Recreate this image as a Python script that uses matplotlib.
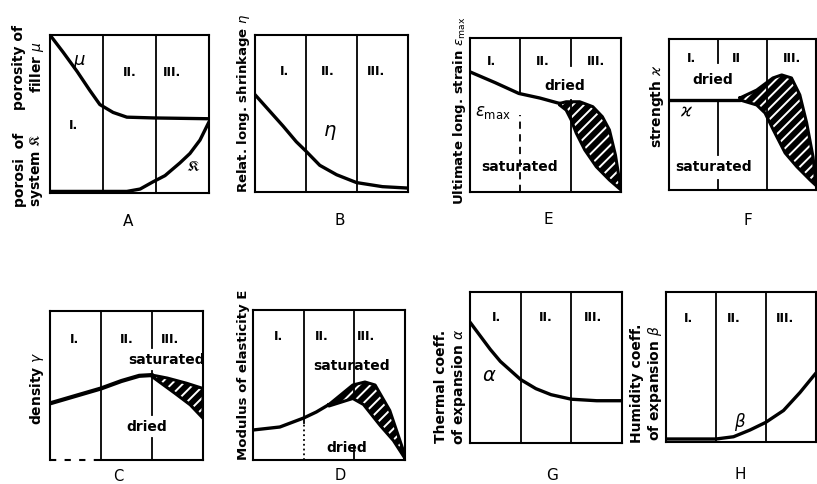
import numpy as np
import matplotlib.pyplot as plt

plt.rcParams['font.family'] = ['DejaVu Sans']
plt.rcParams['mathtext.fontset'] = 'dejavusans'
plt.rcParams['hatch.linewidth'] = 1.4

W, H = 817, 484

# ---- data (x: 0..3 over regions I-III, y: 0..1 relative) ----
# A: porosity of filler (mu) and of system (kappa)
a_mu_x = [0, 0.25, 0.51, 0.75, 0.94, 1.19, 1.45, 1.96, 3.0]
a_mu_y = [1.0, 0.89, 0.77, 0.65, 0.56, 0.51, 0.48, 0.475, 0.47]
a_k_x = [0, 1.0, 1.45, 1.7, 1.94, 2.17, 2.45, 2.64, 2.83, 3.0]
a_k_y = [0.01, 0.01, 0.01, 0.025, 0.07, 0.11, 0.19, 0.25, 0.335, 0.45]

# B: relative longitudinal shrinkage eta
b_x = [0, 0.22, 0.55, 0.81, 1.0, 1.27, 1.6, 1.99, 2.5, 3.0]
b_y = [0.62, 0.54, 0.42, 0.32, 0.26, 0.17, 0.11, 0.06, 0.034, 0.025]

# E: ultimate longitudinal strain
e_x = [0, 0.5, 0.97, 1.39, 1.78]
e_y = [0.78, 0.71, 0.64, 0.61, 0.575]
e_up_x = [1.78, 1.91, 2.18, 2.44, 2.63, 2.77, 2.89, 3.0]
e_up_y = [0.575, 0.586, 0.586, 0.554, 0.489, 0.403, 0.24, 0.013]
e_lo_x = [1.78, 1.91, 2.01, 2.11, 2.28, 2.51, 2.77, 3.0]
e_lo_y = [0.565, 0.532, 0.468, 0.383, 0.273, 0.164, 0.078, 0.013]

# F: strength
f_x = [0, 0.7, 1.45]
f_y = [0.596, 0.596, 0.596]
f_up_x = [1.45, 1.79, 2.12, 2.3, 2.5, 2.67, 2.81, 2.94, 3.0]
f_up_y = [0.61, 0.662, 0.742, 0.762, 0.742, 0.63, 0.444, 0.219, 0.03]
f_lo_x = [1.45, 1.79, 1.96, 2.13, 2.37, 2.61, 2.88, 3.0]
f_lo_y = [0.596, 0.563, 0.51, 0.397, 0.245, 0.154, 0.066, 0.03]

# C: density
c_x = [0, 0.5, 1.0, 1.4, 1.75, 2.0]
c_y = [0.38, 0.43, 0.48, 0.53, 0.565, 0.57]
c_up_x = [2.0, 2.3, 2.68, 3.0]
c_up_y = [0.57, 0.55, 0.515, 0.48]
c_lo_x = [2.0, 2.18, 2.44, 2.75, 3.0]
c_lo_y = [0.56, 0.515, 0.45, 0.37, 0.28]

# D: modulus of elasticity
d_x = [0, 0.53, 1.0, 1.25, 1.5]
d_y = [0.2, 0.22, 0.28, 0.32, 0.37]
d_up_x = [1.5, 1.97, 2.21, 2.41, 2.7, 3.0]
d_up_y = [0.37, 0.5, 0.52, 0.5, 0.33, 0.03]
d_lo_x = [1.5, 1.97, 2.18, 2.51, 2.77, 3.0]
d_lo_y = [0.36, 0.41, 0.37, 0.23, 0.13, 0.01]

# G: thermal coefficient of expansion alpha
g_x = [0, 0.2, 0.4, 0.6, 0.8, 1.0, 1.3, 1.6, 2.0, 2.5, 3.0]
g_y = [0.8, 0.71, 0.62, 0.54, 0.48, 0.42, 0.36, 0.32, 0.29, 0.28, 0.28]

# H: humidity coefficient of expansion beta
h_x = [0, 1.0, 1.35, 1.68, 1.99, 2.35, 2.68, 2.95, 3.0]
h_y = [0.02, 0.02, 0.035, 0.08, 0.13, 0.21, 0.33, 0.44, 0.46]

fig = plt.figure(figsize=(W / 100, H / 100), dpi=100)
fig.patch.set_facecolor('white')


def panel(x0, x1, y0, y1):
    ax = fig.add_axes([x0 / W, 1 - y1 / H, (x1 - x0) / W, (y1 - y0) / H])
    ax.set_xlim(0, 3)
    ax.set_ylim(0, 1)
    ax.set_xticks([])
    ax.set_yticks([])
    for s in ax.spines.values():
        s.set_linewidth(1.5)
    return ax


def vdiv(ax, x, segs=((0, 1),), ls='-'):
    for lo, hi in segs:
        ax.plot([x, x], [lo, hi], color='black', lw=1.3, ls=ls)


def band(ax, ux, uy, lx, ly):
    # black band with white diagonal slits, as in the print
    px = np.concatenate([ux, lx[::-1]])
    py = np.concatenate([uy, ly[::-1]])
    ax.fill(px, py, facecolor='black', edgecolor='none')
    ax.fill(px, py, facecolor='none', edgecolor='white', hatch='///', lw=0)
    ax.plot(np.append(px, px[0]), np.append(py, py[0]), color='black', lw=2.2,
            solid_joinstyle='round')


def curve(ax, x, y, lw=2.4):
    ax.plot(x, y, color='black', lw=lw, solid_capstyle='round', solid_joinstyle='round')


def romans(ax, pos, labels=('I.', 'II.', 'III.'), y=0.8):
    for xx, t, yy in zip(pos, labels, np.broadcast_to(y, len(pos))):
        ax.text(xx, yy, t, ha='center', va='center', fontsize=9, fontweight='bold')


def ylab(x, ybot, text, size=10):
    fig.text(x / W, 1 - ybot / H, text, rotation=90, ha='center', va='bottom',
             fontsize=size, fontweight='bold', linespacing=1.1)


def letter(x, ytop, t, size=11):
    fig.text(x / W, 1 - ytop / H, t, ha='center', va='top', fontsize=size)


txt = dict(ha='center', va='center', fontsize=10, fontweight='bold')

# A
ax = panel(50, 209, 35, 193)
vdiv(ax, 1)
vdiv(ax, 2)
curve(ax, a_mu_x, a_mu_y)
curve(ax, a_k_x, a_k_y)
romans(ax, [0.45, 1.5, 2.3], y=[0.43, 0.76, 0.76])
ax.text(0.56, 0.83, r'$\mu$', fontsize=13, ha='center', va='center')
ax.text(2.7, 0.17, r'$\mathfrak{K}$', fontsize=11, ha='center', va='center')
ylab(29, 207, 'porosi  of\nsystem $\\mathfrak{K}$')
ylab(29, 110, 'porosity of\nfiller $\\mu$')
letter(128, 214, 'A')

# B
ax = panel(255, 408, 35, 192)
vdiv(ax, 1)
vdiv(ax, 2)
curve(ax, b_x, b_y)
romans(ax, [0.58, 1.43, 2.38], y=0.77)
ax.text(1.47, 0.38, r'$\eta$', fontsize=14, ha='center', va='center')
ylab(243, 193, r'Relat. long. shrinkage $\eta$', size=9.5)
letter(340, 213, 'B')

# E
ax = panel(470, 621, 38, 192)
vdiv(ax, 1, ((0.64, 1),))
vdiv(ax, 1, ((0, 0.5),), ls=(0, (4, 3)))
vdiv(ax, 2, ((0.82, 1), (0, 0.6)))
curve(ax, e_x, e_y)
band(ax, e_up_x, e_up_y, e_lo_x, e_lo_y)
romans(ax, [0.43, 1.45, 2.5], y=0.85)
ax.text(1.88, 0.69, 'dried', **txt)
ax.text(0.46, 0.52, r'$\varepsilon_{\mathrm{max}}$', fontsize=12, ha='center', va='center')
ax.text(0.99, 0.16, 'saturated', **txt)
ylab(460, 205, r'Ultimate long. strain $\varepsilon_{\mathrm{max}}$', size=9.5)
letter(548, 212, 'E')

# F
ax = panel(669, 816, 39, 190)
vdiv(ax, 1, ((0.84, 1), (0.23, 0.596), (0, 0.066)))
vdiv(ax, 2)
curve(ax, f_x, f_y)
band(ax, f_up_x, f_up_y, f_lo_x, f_lo_y)
romans(ax, [0.46, 1.38, 2.5], labels=('I.', 'II', 'III.'), y=0.87)
ax.text(0.9, 0.73, 'dried', **txt)
ax.text(0.36, 0.52, r'$\varkappa$', fontsize=12, ha='center', va='center')
ax.text(0.9, 0.15, 'saturated', **txt)
ylab(657, 148, r'strength $\varkappa$')
letter(748, 213, 'F')

# C
ax = panel(50, 203, 311, 460)
vdiv(ax, 1)
vdiv(ax, 2, ((0.75, 1), (0.3, 0.6), (0, 0.15)))
ax.spines['bottom'].set_visible(False)
ax.plot([0, 1], [0, 0], color='black', lw=1.5, ls=(0, (3, 4)), clip_on=False)
ax.plot([1, 3], [0, 0], color='black', lw=1.5, clip_on=False)
curve(ax, c_x, c_y, lw=3.0)
band(ax, c_up_x, c_up_y, c_lo_x, c_lo_y)
romans(ax, [0.49, 1.5, 2.35], y=0.81)
ax.text(2.29, 0.67, 'saturated', **txt)
ax.text(1.9, 0.22, 'dried', **txt)
ylab(37, 425, r'density $\gamma$')
letter(118, 469, 'C', size=10.5)

# D
ax = panel(253, 405, 310, 460)
vdiv(ax, 1, ((0.25, 1),))
vdiv(ax, 1, ((0, 0.25),), ls=':')
vdiv(ax, 2, ((0.42, 1),))
vdiv(ax, 2, ((0, 0.1),))
curve(ax, d_x, d_y)
band(ax, d_up_x, d_up_y, d_lo_x, d_lo_y)
romans(ax, [0.5, 1.35, 2.24], y=0.82)
ax.text(1.95, 0.63, 'saturated', **txt)
ax.text(1.85, 0.08, 'dried', **txt)
ylab(243, 460, 'Modulus of elasticity E', size=9.5)
letter(340, 468, 'D', size=10.5)

# G
ax = panel(470, 622, 292, 443)
vdiv(ax, 1)
vdiv(ax, 2)
curve(ax, g_x, g_y)
romans(ax, [0.53, 1.5, 2.43], y=0.83)
ax.text(0.39, 0.45, r'$\alpha$', fontsize=14, ha='center', va='center')
ylab(451, 445, 'Thermal coeff.\nof expansion $\\alpha$')
letter(552, 468, 'G')

# H
ax = panel(666, 816, 292, 442)
vdiv(ax, 1)
vdiv(ax, 2)
curve(ax, h_x, h_y)
romans(ax, [0.45, 1.35, 2.38], y=0.82)
ax.text(1.48, 0.135, r'$\beta$', fontsize=12, ha='center', va='center')
ylab(647, 443, 'Humidity coeff.\nof expansion $\\beta$')
letter(740, 467, 'H')

fig.savefig('out.png', dpi=100)
